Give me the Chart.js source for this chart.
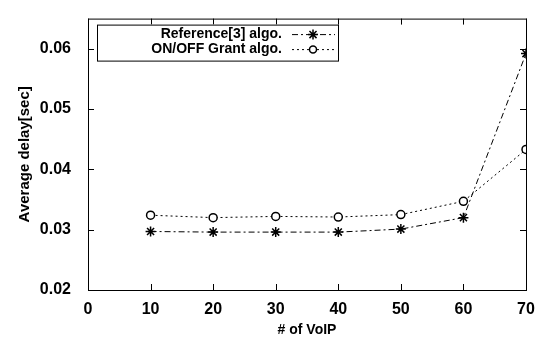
<!DOCTYPE html>
<html>
<head>
<meta charset="utf-8">
<script src="https://cdn.jsdelivr.net/npm/chart.js@4"></script>
<style>
  html, body { margin: 0; padding: 0; background: #fff; }
  #wrap { width: 543px; height: 343px; }
</style>
</head>
<body>
<div id="wrap"><canvas id="c" width="543" height="343"></canvas></div>
<script>
// data
const voip = [10, 20, 30, 40, 50, 60, 70];
const refAlgo = [0.0297, 0.0296, 0.0296, 0.0296, 0.0301, 0.0320, 0.0592];
const onoffAlgo = [0.0324, 0.0320, 0.0322, 0.0321, 0.0325, 0.0347, 0.0433];
const xTicks = [0, 10, 20, 30, 40, 50, 60, 70];
const yTicks = [0.02, 0.03, 0.04, 0.05, 0.06];
const seriesNames = ['Reference[3] algo.', 'ON/OFF Grant algo.'];

const FONT = '"Liberation Sans", Arial, Helvetica, sans-serif';
const refDash = [6, 3, 2, 3];
const onoffDash = [2, 3];

// gnuplot style frame: box + inward ticks on all sides
const framePlugin = {
  id: 'frame',
  afterDraw(chart) {
    const { ctx, chartArea: a, scales } = chart;
    ctx.save();
    ctx.strokeStyle = '#000';
    ctx.lineWidth = 1;
    ctx.strokeRect(a.left + 0.5, a.top + 0.5, a.right - a.left, a.bottom - a.top);
    ctx.beginPath();
    xTicks.forEach(v => {
      const x = Math.round(scales.x.getPixelForValue(v)) + 0.5;
      ctx.moveTo(x, a.bottom); ctx.lineTo(x, a.bottom - 6);
      ctx.moveTo(x, a.top); ctx.lineTo(x, a.top + 6);
    });
    yTicks.forEach(v => {
      const y = Math.round(scales.y.getPixelForValue(v)) + 0.5;
      ctx.moveTo(a.left, y); ctx.lineTo(a.left + 6, y);
      ctx.moveTo(a.right, y); ctx.lineTo(a.right - 6, y);
    });
    ctx.stroke();

    // legend box at top-left
    const bx = a.left + 9, by = a.top + 6, bw = 241, bh = 36;
    ctx.fillStyle = '#fff';
    ctx.fillRect(bx, by, bw, bh);
    ctx.strokeRect(bx + 0.5, by + 0.5, bw, bh);
    ctx.font = 'bold 14px ' + FONT;
    ctx.fillStyle = '#000';
    ctx.textAlign = 'right';
    ctx.textBaseline = 'middle';
    const rows = [by + 10, by + 25];
    const ds = chart.data.datasets;
    rows.forEach((ry, i) => {
      ctx.fillText(seriesNames[i], bx + 185, ry);
      ctx.beginPath();
      ctx.setLineDash(ds[i].borderDash);
      ctx.moveTo(bx + 195, ry); ctx.lineTo(bx + 238, ry);
      ctx.stroke();
      ctx.setLineDash([]);
      if (ds[i].pointStyle === 'circle') {
        ctx.fillStyle = '#fff';
        ctx.lineWidth = 1.5;
        ctx.beginPath(); ctx.arc(bx + 216, ry, 3.5, 0, Math.PI * 2); ctx.fill(); ctx.stroke();
        ctx.fillStyle = '#000';
        ctx.lineWidth = 1;
      } else {
        ctx.lineWidth = 1.5;
        Chart.helpers.drawPoint(ctx, { pointStyle: ds[i].pointStyle, radius: 5, rotation: 0, borderWidth: 1.5 }, bx + 216, ry);
        ctx.lineWidth = 1;
      }
    });
    ctx.restore();
  }
};

new Chart(document.getElementById('c'), {
  type: 'line',
  data: {
    labels: voip,
    datasets: [
      {
        label: seriesNames[0],
        data: voip.map((v, i) => ({ x: v, y: refAlgo[i] })),
        borderColor: '#000', backgroundColor: '#000',
        borderWidth: 1, borderDash: refDash,
        pointStyle: 'star', pointRadius: 5, pointBorderWidth: 1.5,
        tension: 0
      },
      {
        label: seriesNames[1],
        data: voip.map((v, i) => ({ x: v, y: onoffAlgo[i] })),
        borderColor: '#000', backgroundColor: '#fff',
        borderWidth: 1, borderDash: onoffDash,
        pointStyle: 'circle', pointRadius: 4, pointBorderWidth: 1.5,
        tension: 0
      }
    ]
  },
  options: {
    responsive: false,
    animation: false,
    layout: { padding: { top: 9, right: 17, left: 12, bottom: 0 } },
    plugins: { legend: { display: false }, tooltip: { enabled: false } },
    scales: {
      x: {
        type: 'linear', min: 0, max: 70,
        afterBuildTicks: s => { s.ticks = xTicks.map(v => ({ value: v })); },
        afterFit: s => { s.height = 53; },
        grid: { display: false },
        border: { display: false },
        ticks: { color: '#000', padding: 2, maxRotation: 0, font: { family: FONT, size: 16, weight: 'bold' } },
        title: { display: true, text: '# of VoIP', color: '#000', padding: { top: 4 },
                 font: { family: FONT, size: 14, weight: 'bold' } }
      },
      y: {
        type: 'linear', min: 0.02, max: 0.065,
        afterBuildTicks: s => { s.ticks = yTicks.map(v => ({ value: v })); },
        afterFit: s => { s.width = 76; },
        grid: { display: false },
        border: { display: false },
        ticks: { color: '#000', padding: 9, font: { family: FONT, size: 16, weight: 'bold' },
                 callback: v => v.toFixed(2) },
        title: { display: true, text: 'Average delay[sec]', color: '#000', padding: { bottom: 2 },
                 font: { family: FONT, size: 15, weight: 'bold' } }
      }
    }
  },
  plugins: [framePlugin]
});
</script>
</body>
</html>
